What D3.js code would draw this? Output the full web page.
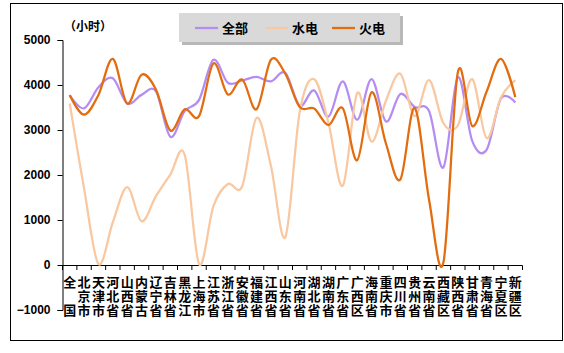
<!DOCTYPE html>
<html lang="zh">
  <head>
    <meta charset="utf-8">
    <title>利用小时</title>
    <script src="https://cdn.jsdelivr.net/npm/d3@7"></script>
    <style>
      body { margin: 0; background: #fff; }
      text { font-family: "Liberation Sans", Arial, "Noto Sans CJK SC", sans-serif; }
      .cjk { font-family: "Noto Sans CJK SC", sans-serif; }
    </style>
  </head>
  <body>
    <div id='chart'></div>

    <script type='text/javascript'>
      // categories (regions), stacked vertically under the axis
      let regions = ['全 国','北京市','天津市','河北省','山西省','内蒙古','辽宁省','吉林省',
                     '黑龙江','上海市','江苏省','浙江省','安徽省','福建省','江西省','山东省',
                     '河南省','湖北省','湖南省','广东省','广西区','海南省','重庆市','四川省',
                     '贵州省','云南省','西藏区','陕西省','甘肃省','青海省','宁夏区','新疆区'];

      // utilisation hours
      let allHours   = [3770,3480,3950,4150,3590,3780,3860,2850,3420,3670,4560,4050,
                        4100,4180,4080,4270,3540,3880,3300,4080,3230,4130,3190,3800,
                        3510,3420,2170,4170,2760,2560,3700,3610];
      let hydroHours = [3590,1700,20,950,1730,970,1530,2010,2450,20,1310,1800,
                        1750,3270,2200,620,3400,4130,3160,1760,3820,2740,3650,4250,
                        3310,4110,3150,3100,4130,2820,3720,4110];
      let thermHours = [3780,3340,3780,4580,3590,4230,3900,2990,3460,3310,4480,3790,
                        4120,3460,4560,4250,3510,3480,3110,3480,2330,3840,2700,1900,
                        3490,1450,60,4280,3090,3850,4580,3730];

      let yTicks = [-1000,0,1000,2000,3000,4000,5000];

      let series = [
        {name: '全部', values: allHours,   color: '#b48cf2'},
        {name: '水电', values: hydroHours, color: '#f9c8a0'},
        {name: '火电', values: thermHours, color: '#e36c0e'}
      ];

      let width = 564, height = 353;
      let svg = d3.select('#chart').append('svg')
        .attr('width', width)
        .attr('height', height)

      // outer frame
      svg.append('rect')
        .attr('x', 10.5).attr('y', 3.5)
        .attr('width', 552).attr('height', 337)
        .attr('fill', 'none')
        .attr('stroke', '#000')
        .attr('stroke-width', 1)

      let x = d3.scaleBand()
        .domain(regions)
        .range([62.5, 522.5])
        .padding(0)

      let y = d3.scaleLinear()
        .domain([-1000, 5000])
        .range([310, 40])

      // y axis
      let yAxis = svg.append('g')
        .attr('transform', 'translate(62.5,0)')
        .call(d3.axisLeft(y).tickValues(yTicks).tickSize(5).tickFormat(d3.format('d')))
      yAxis.select('.domain').attr('stroke', '#000')
      yAxis.selectAll('.tick line').attr('stroke', '#000')
      yAxis.selectAll('text')
        .attr('x', -12)
        .attr('font-size', 12)
        .attr('font-weight', 'bold')
        .attr('fill', '#000')
        .attr('font-family', '"Liberation Sans", Arial, sans-serif')

      // x axis at zero, ticks on the band edges
      let edges = regions.map((d) => x(d)).concat([x.range()[1]]);
      let xAxis = svg.append('g')
      xAxis.append('line')
        .attr('x1', x.range()[0]).attr('x2', x.range()[1])
        .attr('y1', Math.round(y(0)) + 0.5).attr('y2', Math.round(y(0)) + 0.5)
        .attr('stroke', '#000')
      xAxis.selectAll('line.tick')
        .data(edges)
        .enter()
        .append('line')
        .attr('class', 'tick')
        .attr('x1', (d) => d).attr('x2', (d) => d)
        .attr('y1', Math.round(y(0)) + 0.5).attr('y2', Math.round(y(0)) + 5)
        .attr('stroke', '#000')

      // stacked labels, one text per character
      let cells = [];
      regions.forEach((r) => r.split('').forEach((c, i) => {
        if (c != ' ') cells.push({c: c, r: r, i: i});
      }));
      xAxis.selectAll('text.cat')
        .data(cells)
        .enter()
        .append('text')
        .attr('class', 'cat cjk')
        .attr('text-anchor', 'middle')
        .attr('font-size', 13)
        .attr('font-weight', 'bold')
        .attr('fill', '#000')
        .attr('x', (d) => x(d.r) + x.bandwidth() / 2)
        .attr('y', (d) => 287 + d.i * 14)
        .text((d) => d.c)

      svg.append('text')
        .attr('class', 'cjk')
        .attr('x', 88).attr('y', 31)
        .attr('text-anchor', 'middle')
        .attr('font-size', 12)
        .attr('font-weight', 'bold')
        .text('（小时）')

      // smoothed lines
      let line = d3.line()
        .x((d, i) => x(regions[i]) + x.bandwidth() / 2)
        .y((d) => y(d))
        .curve(d3.curveCardinal.tension(0))

      svg.selectAll('path.series')
        .data(series)
        .enter()
        .append('path')
        .attr('class', 'series')
        .attr('d', (d) => line(d.values))
        .attr('fill', 'none')
        .attr('stroke', (d) => d.color)
        .attr('stroke-width', 2.25)
        .attr('stroke-linejoin', 'round')

      // legend with shadow
      let legend = svg.append('g')
      legend.append('rect')
        .attr('x', 182).attr('y', 16)
        .attr('width', 221).attr('height', 29)
        .attr('fill', '#9a9a9a')
        .attr('opacity', 0.7)
      legend.append('rect')
        .attr('x', 179).attr('y', 13)
        .attr('width', 221).attr('height', 29)
        .attr('fill', '#d9d9d9')

      let legX = [195, 265, 332];
      let item = legend.selectAll('g.item')
        .data(series)
        .enter()
        .append('g')
        .attr('class', 'item')
        .attr('transform', (d, i) => 'translate(' + legX[i] + ',28)')
      item.append('line')
        .attr('x1', 0).attr('x2', 23)
        .attr('stroke', (d) => d.color)
        .attr('stroke-width', 2.25)
      item.append('text')
        .attr('class', 'cjk')
        .attr('x', 27).attr('y', 5)
        .attr('font-size', 13)
        .attr('font-weight', 'bold')
        .text((d) => d.name)
    </script>
  </body>
</html>
